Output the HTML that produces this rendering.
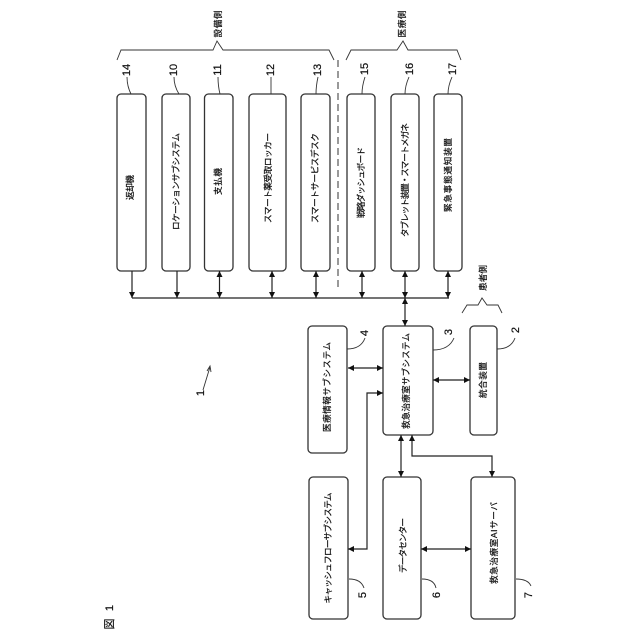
<!DOCTYPE html>
<html><head><meta charset="utf-8"><style>
html,body{margin:0;padding:0;background:#fff}
svg{display:block}
text{font-family:"Liberation Sans","Noto Sans CJK JP",sans-serif;fill:#111;stroke:#111;stroke-width:.22}
.l{font-size:8.6px;text-anchor:middle;dominant-baseline:central}
.n{font-size:11px;text-anchor:middle;dominant-baseline:central}
rect{fill:#fff;stroke:#333;stroke-width:1.3}
.c{fill:none;stroke:#222;stroke-width:1.2}
.t{fill:none;stroke:#333;stroke-width:.9}
</style></head><body>
<svg width="640" height="640" viewBox="0 0 640 640" xmlns="http://www.w3.org/2000/svg">
<defs>
<marker id="a" markerUnits="userSpaceOnUse" markerWidth="7" markerHeight="7" refX="6" refY="3" orient="auto-start-reverse"><path d="M0 0L6 3L0 6Z" fill="#111"/></marker>
</defs>
<rect x="117" y="94" width="29" height="177" rx="4"/>
<rect x="162" y="94" width="28" height="177" rx="4"/>
<rect x="204.500" y="94" width="28.500" height="177" rx="4"/>
<rect x="249" y="94" width="37" height="177" rx="4"/>
<rect x="301" y="94" width="29" height="177" rx="4"/>
<rect x="347" y="94" width="28" height="177" rx="4"/>
<rect x="391" y="94" width="28" height="177" rx="4"/>
<rect x="434" y="94" width="28" height="177" rx="4"/>
<rect x="308" y="326" width="39" height="127" rx="4"/>
<rect x="383" y="326" width="50" height="109" rx="4"/>
<rect x="470" y="326" width="27" height="109" rx="4"/>
<rect x="309" y="477" width="39" height="142" rx="4"/>
<rect x="383" y="477" width="38" height="142" rx="4"/>
<rect x="471" y="477" width="44" height="142" rx="4"/>

<path class="c" d="M132 298H449"/>
<path class="c" d="M132 271V298" marker-end="url(#a)"/>
<path class="c" d="M177 271V298" marker-end="url(#a)"/>
<path class="c" d="M219.500 271V298" marker-start="url(#a)" marker-end="url(#a)"/>
<path class="c" d="M272 271V298" marker-start="url(#a)" marker-end="url(#a)"/>
<path class="c" d="M316 271V298" marker-start="url(#a)" marker-end="url(#a)"/>
<path class="c" d="M362 271V298" marker-start="url(#a)" marker-end="url(#a)"/>
<path class="c" d="M405 271V298" marker-start="url(#a)" marker-end="url(#a)"/>
<path class="c" d="M448 271V298" marker-start="url(#a)" marker-end="url(#a)"/>
<path class="c" d="M405 298V326" marker-start="url(#a)" marker-end="url(#a)"/>
<path class="c" d="M348 368H383" marker-start="url(#a)" marker-end="url(#a)"/>
<path class="c" d="M433 380H470" marker-start="url(#a)" marker-end="url(#a)"/>
<path class="c" d="M348 549H367V393H383" marker-start="url(#a)" marker-end="url(#a)"/>
<path class="c" d="M401 435V477" marker-start="url(#a)" marker-end="url(#a)"/>
<path class="c" d="M412 435V456H492V477" marker-start="url(#a)" marker-end="url(#a)"/>
<path class="c" d="M421 549H471" marker-start="url(#a)" marker-end="url(#a)"/>

<path d="M338 60V288" fill="none" stroke="#333" stroke-width="1" stroke-dasharray="7 4"/>
<path class="t" d="M117 60L121 50H213L217 41L223 50H329L334 60"/>
<path class="t" d="M346 60L351 50H397L403 41L408 50H457L461 60"/>
<path class="t" d="M462 313L467 305H478L482 298L487 305H498L502 313"/>

<path class="t" d="M127 77Q127 86 131 94"/>
<path class="t" d="M174 77Q174 86 179 94"/>
<path class="t" d="M218 77Q218 86 220 94"/>
<path class="t" d="M271 77V94"/>
<path class="t" d="M318 77Q316 86 316 94"/>
<path class="t" d="M365 77Q362 86 362 94"/>
<path class="t" d="M409 77Q405 86 405 94"/>
<path class="t" d="M452 77Q448 86 448 94"/>
<path class="t" d="M347 349Q361 349 365 338"/>
<path class="t" d="M433 350Q449 350 454 338"/>
<path class="t" d="M497 349Q511 349 515 338"/>
<path class="t" d="M349 579Q361 579 364 588"/>
<path class="t" d="M422 579Q434 579 436 588"/>
<path class="t" d="M516 579Q528 579 531 586"/>
<path class="t" d="M203 390L210 367M207 371L210 366L211 372"/>

<text class="l" transform="translate(130,187.500) rotate(-90)" textLength="25" lengthAdjust="spacing">返却機</text>
<text class="l" transform="translate(176,181.500) rotate(-90)" textLength="97" lengthAdjust="spacing">ロケーションサブシステム</text>
<text class="l" transform="translate(218,181.500) rotate(-90)" textLength="27" lengthAdjust="spacing">支払機</text>
<text class="l" transform="translate(268,178) rotate(-90)" textLength="90" lengthAdjust="spacing">スマート薬受取ロッカー</text>
<text class="l" transform="translate(315,178) rotate(-90)" textLength="90" lengthAdjust="spacing">スマートサービスデスク</text>
<text class="l" transform="translate(361,182.500) rotate(-90)" textLength="71" lengthAdjust="spacing">戦略ダッシュボード</text>
<text class="l" transform="translate(405,180) rotate(-90)" textLength="114" lengthAdjust="spacing">タブレット装置・スマートメガネ</text>
<text class="l" transform="translate(448,175) rotate(-90)" textLength="74" lengthAdjust="spacing">緊急事態通知装置</text>
<text class="l" transform="translate(327,387) rotate(-90)" textLength="90" lengthAdjust="spacing">医療情報サブシステム</text>
<text class="l" transform="translate(406,381) rotate(-90)" textLength="96" lengthAdjust="spacing">救急治療室サブシステム</text>
<text class="l" transform="translate(483,380) rotate(-90)" textLength="36" lengthAdjust="spacing">統合装置</text>
<text class="l" transform="translate(328,548) rotate(-90)" textLength="111" lengthAdjust="spacing">キャッシュフローサブシステム</text>
<text class="l" transform="translate(403,545.500) rotate(-90)" textLength="55" lengthAdjust="spacing">データセンター</text>
<text class="l" transform="translate(494,543) rotate(-90)" textLength="82" lengthAdjust="spacing">救急治療室AIサーバ</text>
<text class="l" transform="translate(218,24) rotate(-90)" textLength="27" lengthAdjust="spacing">設備側</text>
<text class="l" transform="translate(402,24) rotate(-90)" textLength="27" lengthAdjust="spacing">医療側</text>
<text class="l" transform="translate(483,278) rotate(-90)" textLength="26" lengthAdjust="spacing">患者側</text>

<text class="n" transform="translate(127,70) rotate(-90)">14</text>
<text class="n" transform="translate(174,70) rotate(-90)">10</text>
<text class="n" transform="translate(218,70) rotate(-90)">11</text>
<text class="n" transform="translate(271,70) rotate(-90)">12</text>
<text class="n" transform="translate(318,70) rotate(-90)">13</text>
<text class="n" transform="translate(365,69) rotate(-90)">15</text>
<text class="n" transform="translate(410,69) rotate(-90)">16</text>
<text class="n" transform="translate(453,69) rotate(-90)">17</text>
<text class="n" transform="translate(365,333) rotate(-90)">4</text>
<text class="n" transform="translate(449,332) rotate(-90)">3</text>
<text class="n" transform="translate(516,330) rotate(-90)">2</text>
<text class="n" transform="translate(363,595) rotate(-90)">5</text>
<text class="n" transform="translate(437,595) rotate(-90)">6</text>
<text class="n" transform="translate(529,595) rotate(-90)">7</text>
<text class="n" transform="translate(201,393) rotate(-90)">1</text>
<text class="n" transform="translate(110,608) rotate(-90)">1</text>
<text class="n" transform="translate(110,624) rotate(-90)">図</text>
</svg>
</body></html>
